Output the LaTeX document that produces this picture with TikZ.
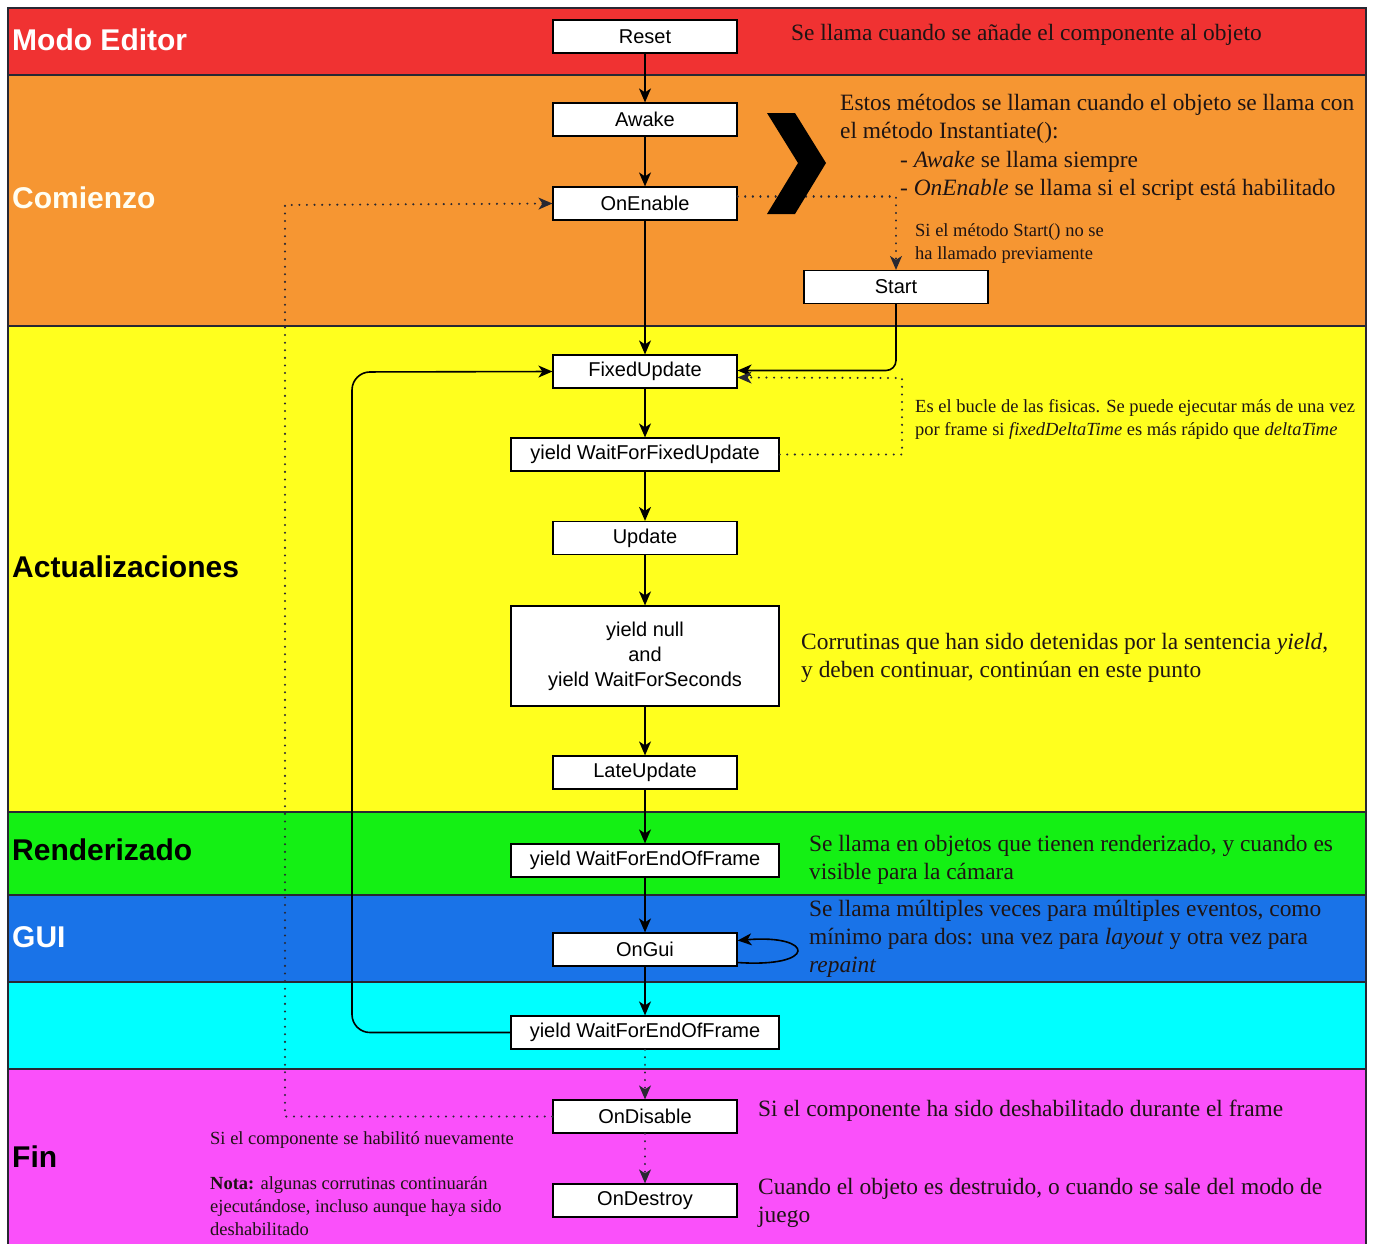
\documentclass[tikz,border=0pt]{standalone}
\usepackage{fontspec}
\setmainfont{Liberation Serif}
\newfontfamily\sansf{Liberation Sans}
\usetikzlibrary{arrows.meta,calc}
\definecolor{cred}{RGB}{240,50,50}
\definecolor{corange}{RGB}{246,150,50}
\definecolor{cyellow}{RGB}{255,255,30}
\definecolor{cgreen}{RGB}{20,240,20}
\definecolor{cblue}{RGB}{25,115,232}
\definecolor{ccyan}{RGB}{0,255,255}
\definecolor{cmag}{RGB}{250,80,250}
\definecolor{bline}{RGB}{40,40,50}
\definecolor{txt}{RGB}{30,20,20}
\begin{document}
\begin{tikzpicture}[x=1pt,y=-1pt,
  band/.style={draw=bline,line width=1.6pt},
  bandlbl/.style={anchor=west,inner sep=0pt,font=\sansf\bfseries\fontsize{30}{32}\selectfont},
  box/.style={draw=black,fill=white,line width=1.2pt,minimum height=33pt,minimum width=184pt,inner sep=0pt,font=\sansf\fontsize{20}{25}\selectfont,align=center},
  wbox/.style={box,minimum width=268pt},
  arr/.style={line width=1.6pt,draw=black,-{Stealth[length=14pt,width=12pt,inset=4pt]}},
  dotarr/.style={line width=2.2pt,draw=bline,line cap=round,dash pattern=on 0.1pt off 7.5pt,-{Stealth[length=14pt,width=12pt,inset=4pt,line width=1.2pt]}},
  big/.style={anchor=west,inner sep=0pt,align=left,text=txt,font=\fontsize{23.4}{28}\selectfont},
  small/.style={anchor=west,inner sep=0pt,align=left,text=txt,font=\fontsize{18.5}{23}\selectfont}
]
\useasboundingbox (0,0) rectangle (1373,1243);
\fill[white] (0,0) rectangle (1373,1243);
% bands
\filldraw[band,fill=cred] (8,8) rectangle (1366,75);
\filldraw[band,fill=corange] (8,75) rectangle (1366,326);
\filldraw[band,fill=cyellow] (8,326) rectangle (1366,812);
\filldraw[band,fill=cgreen] (8,812) rectangle (1366,895);
\filldraw[band,fill=cblue] (8,895) rectangle (1366,982);
\filldraw[band,fill=ccyan] (8,982) rectangle (1366,1069);
\filldraw[band,fill=cmag] (8,1069) rectangle (1366,1260);
% band labels
\node[bandlbl,text=white] (lmodo) at (12,40) {Modo Editor};
\node[bandlbl,text=white!95!yellow] (lcom) at (12,198) {Comienzo};
\node[bandlbl,text=black] (lact) at (12,567) {Actualizaciones};
\node[bandlbl,text=black] (lren) at (12,850) {Renderizado};
\node[bandlbl,text=white] (lgui) at (12,937) {GUI};
\node[bandlbl,text=black] (lfin) at (12,1157) {Fin};
% boxes
\node[box] (reset) at (645,36.5) {Reset};
\node[box] (awake) at (645,119.5) {Awake};
\node[box] (onenable) at (645,203.5) {OnEnable};
\node[box] (start) at (896,287) {Start};
\node[box] (fixedupdate) at (645,371.5) {FixedUpdate};
\node[wbox] (wffu) at (645,454.5) {yield WaitForFixedUpdate};
\node[box] (update) at (645,538) {Update};
\node[wbox,minimum height=100pt] (ynull) at (645,656) {yield null\\and\\yield WaitForSeconds};
\node[box] (lateupdate) at (645,772.5) {LateUpdate};
\node[wbox] (wfeofa) at (645,860.5) {yield WaitForEndOfFrame};
\node[box] (ongui) at (645,949.5) {OnGui};
\node[wbox] (wfeofb) at (645,1032.5) {yield WaitForEndOfFrame};
\node[box] (ondisable) at (645,1116.5) {OnDisable};
\node[box] (ondestroy) at (645,1200.5) {OnDestroy};
% coordinates for loops
\coordinate (loopL) at (352,372);
\coordinate (dotL) at (285,205);
\coordinate (dotR) at (902,378);
% main flow
\draw[arr] (reset) -- (awake);
\draw[arr] (awake) -- (onenable);
\draw[arr] (onenable) -- (fixedupdate);
\draw[arr] (fixedupdate) -- (wffu);
\draw[arr] (wffu) -- (update);
\draw[arr] (update) -- (ynull);
\draw[arr] (ynull) -- (lateupdate);
\draw[arr] (lateupdate) -- (wfeofa);
\draw[arr] (wfeofa) -- (ongui);
\draw[arr] (ongui) -- (wfeofb);
% start -> fixedupdate
\draw[arr,rounded corners=10pt] (start.south) |- ([yshift=1pt]fixedupdate.east);
% physics loop dotted
\draw[dotarr] (wffu.east) -| (dotR) -- ([yshift=-6pt]fixedupdate.east);
% frame loop
\draw[arr,rounded corners=18pt] (wfeofb.west) -| (loopL) -- (fixedupdate.west);
% OnGui self loop
\draw[arr] ([yshift=-13pt]ongui.east) .. controls (818,968) and (815,934) .. ([yshift=9pt]ongui.east);
% dotted flows
\draw[dotarr] (wfeofb) -- (ondisable);
\draw[dotarr] (ondisable) -- (ondestroy);
\draw[dotarr] (ondisable.west) -| (dotL) -- (onenable.west);
\draw[dotarr] ([yshift=7pt]onenable.east) -| (start.north);
% chevron
\fill[black] (767,113) -- (795,113) -- (826,163) -- (795,214) -- (767,214) -- (798,163) -- cycle;
% annotations
\node[big] (tReset) at (791,35) {Se llama cuando se añade el componente al objeto};
\node[big] (tEstos) at (840,119) {Estos métodos se llaman cuando el objeto se llama con\\el método Instantiate():};
\node[big] (tAwake) at (900,176) {- \textit{Awake} se llama siempre\\- \textit{OnEnable} se llama si el script está habilitado};
\node[small] (tStart) at (915,244) {Si el método Start() no se\\ha llamado previamente};
\node[small] (tFis) at (915,419) {Es el bucle de las fisicas. Se puede ejecutar más de una vez\\por frame si \textit{fixedDeltaTime} es más rápido que \textit{deltaTime}};
\node[big] (tCorr) at (801,658) {Corrutinas que han sido detenidas por la sentencia \textit{yield},\\y deben continuar, continúan en este punto};
\node[big] (tRend) at (809,860) {Se llama en objetos que tienen renderizado, y cuando es\\visible para la cámara};
\node[big] (tGui) at (809,939) {Se llama múltiples veces para múltiples eventos, como\\mínimo para dos: una vez para \textit{layout} y otra vez para\\\textit{repaint}};
\node[big] (tDis) at (758,1111) {Si el componente ha sido deshabilitado durante el frame};
\node[big] (tDes) at (758,1203) {Cuando el objeto es destruido, o cuando se sale del modo de\\juego};
\node[small] (tHab) at (210,1140) {Si el componente se habilitó nuevamente};
\node[small] (tNota) at (210,1206) {\textbf{Nota:} algunas corrutinas continuarán\\ejecutándose, incluso aunque haya sido\\deshabilitado};
\end{tikzpicture}
\end{document}
